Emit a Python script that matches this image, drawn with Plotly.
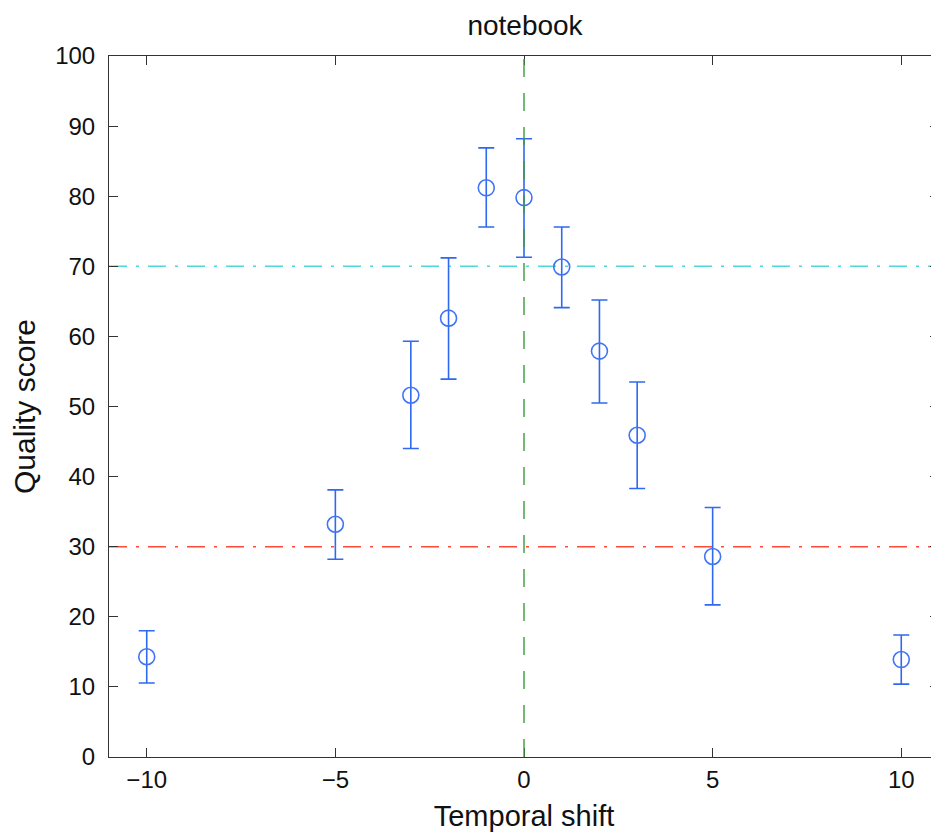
import plotly.graph_objects as go

# ---- data ----
shift = [-10, -5, -3, -2, -1, 0, 1, 2, 3, 5, 10]
score = [14.3, 33.2, 51.6, 62.6, 81.2, 79.8, 69.9, 57.9, 45.9, 28.6, 13.9]
err_upper = [3.7, 4.9, 7.7, 8.6, 5.7, 8.4, 5.7, 7.3, 7.6, 7.0, 3.5]
err_lower = [3.75, 5.0, 7.6, 8.7, 5.6, 8.5, 5.8, 7.4, 7.6, 6.9, 3.5]
upper_ref = 70
lower_ref = 30
zero_shift = 0
x_ticks = [-10, -5, 0, 5, 10]
y_ticks = list(range(0, 101, 10))

FONT = "Liberation Sans, Arial, Helvetica, sans-serif"

fig = go.Figure()

fig.add_trace(go.Scatter(
    x=shift, y=score, mode="markers",
    marker=dict(symbol="circle-open", size=16, color="#3f74f6",
                line=dict(width=1.6, color="#3f74f6")),
    error_y=dict(type="data", symmetric=False, array=err_upper,
                 arrayminus=err_lower, color="#2f68f2", thickness=1.6, width=8),
    showlegend=False, cliponaxis=False,
))

# reference lines
fig.add_shape(type="line", xref="paper", x0=0, x1=1, yref="y", y0=upper_ref, y1=upper_ref,
              line=dict(color="#4fd8da", width=1.6, dash="18px,9px,3px,9px"), layer="below")
fig.add_shape(type="line", xref="paper", x0=0, x1=1, yref="y", y0=lower_ref, y1=lower_ref,
              line=dict(color="#ff4a3a", width=1.4, dash="18px,9px,3px,9px"), layer="below")
fig.add_shape(type="line", xref="x", x0=zero_shift, x1=zero_shift, yref="paper", y0=0, y1=1,
              line=dict(color="#3d9a3d", width=1.4, dash="18px,16px"), layer="above")

axis_common = dict(
    showline=True, linecolor="#333333", linewidth=1, mirror="ticks",
    ticks="inside", ticklen=9, tickwidth=1, tickcolor="#333333",
    showgrid=False, zeroline=False,
    tickfont=dict(family=FONT, size=24, color="#111111"),
)

fig.update_xaxes(range=[-11, 11], tickmode="array", tickvals=x_ticks,
                 title=dict(text="Temporal shift", font=dict(family=FONT, size=29, color="#111111"),
                            standoff=13),
                 ticklabelstandoff=1, **axis_common)
fig.update_yaxes(range=[0, 100], tickmode="array", tickvals=y_ticks,
                 title=dict(text="Quality score", font=dict(family=FONT, size=30, color="#111111"),
                            standoff=16),
                 ticklabelstandoff=8, **axis_common)

fig.update_layout(
    width=931, height=825,
    margin=dict(l=101, r=0, t=48, b=76),
    paper_bgcolor="white", plot_bgcolor="white",
    title=dict(text="notebook", x=517 / 931, xanchor="center",
               y=1 - 17 / 825, yanchor="middle", yref="container",
               font=dict(family=FONT, size=28, color="#111111")),
)

fig.write_html("out.html")
